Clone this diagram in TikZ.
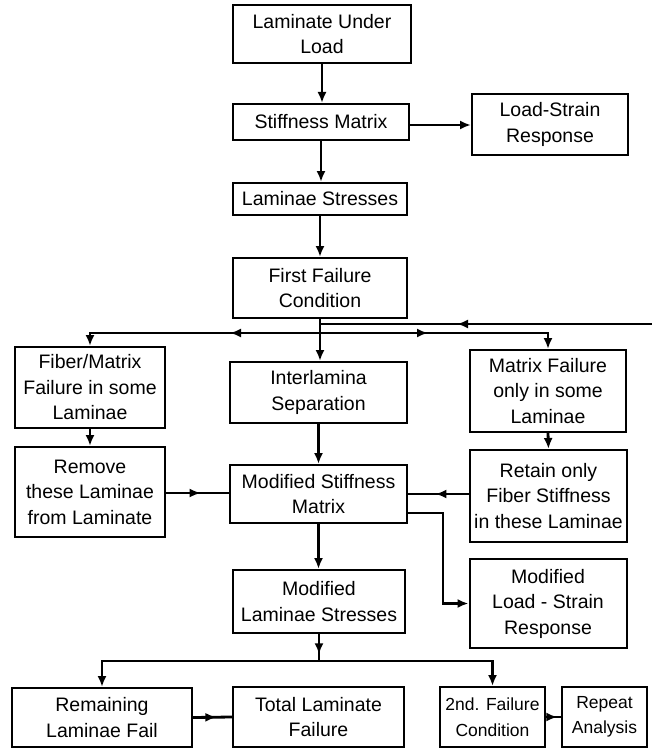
\documentclass[tikz,border=0pt]{standalone}
\usepackage{fontspec}
\setmainfont{Liberation Sans}
\usetikzlibrary{arrows.meta,decorations.markings}
\tikzset{
 box/.style={draw, line width=2pt, inner sep=0pt, align=center, font=\fontsize{19.5}{25.5}\selectfont},
 smallbox/.style={box, font=\fontsize{17.5}{25.5}\selectfont},
 conn/.style={line width=2.8pt},
 tip/.style={-{Latex[length=11pt,width=9pt]}},
 midtip/.style={postaction={decorate,decoration={markings,mark=at position #1 with {\arrow{Latex[length=11pt,width=9pt]}}}}},
}
\begin{document}
\begin{tikzpicture}[x=1pt,y=-1pt]
\useasboundingbox (0,0) rectangle (652,749);
% boxes
\node[box, minimum width=178pt, minimum height=58pt] (LUL) at (322,34) {Laminate Under\\Load};
\node[box, minimum width=176pt, minimum height=36pt] (SM) at (321,122) {Stiffness Matrix};
\node[box, minimum width=156pt, minimum height=61pt] (LSR) at (550,124.5) {Load-Strain\\Response};
\node[box, minimum width=174pt, minimum height=32pt] (LS) at (320,199) {Laminae Stresses};
\node[box, minimum width=174pt, minimum height=60pt] (FF) at (320,288) {First Failure\\Condition};
\node[box, minimum width=150pt, minimum height=81pt] (FM) at (90,387.5) {Fiber/Matrix\\Failure in some\\Laminae};
\node[box, minimum width=150pt, minimum height=90pt] (RM) at (90,492) {Remove\\these Laminae\\from Laminate};
\node[box, minimum width=177pt, minimum height=61pt] (IS) at (318.5,392.5) {Interlamina\\Separation};
\node[box, minimum width=177pt, minimum height=58pt] (MS) at (318.5,494) {Modified Stiffness\\Matrix};
\node[box, minimum width=156pt, minimum height=82pt] (MF) at (548,391) {Matrix Failure\\only in some\\Laminae};
\node[box, minimum width=157pt, minimum height=92pt] (RT) at (548.5,496) {Retain only\\Fiber Stiffness\\in these Laminae};
\node[box, minimum width=157pt, minimum height=89pt] (MLS) at (548,603.5) {Modified\\Load - Strain\\Response};
\node[box, minimum width=172pt, minimum height=63pt] (ML) at (319,601.5) {Modified\\Laminae Stresses};
\node[box, minimum width=180pt, minimum height=59pt] (RLF) at (102,717.5) {Remaining\\Laminae Fail};
\node[box, minimum width=171pt, minimum height=60pt] (TLF) at (318.5,717) {Total Laminate\\Failure};
\node[smallbox, minimum width=105pt, minimum height=60pt] (SF) at (492.5,717) {2nd. Failure\\Condition};
\node[smallbox, minimum width=85pt, minimum height=60pt] (RA) at (604.5,717) {Repeat\\Analysis};
% junctions
\coordinate (jA) at (320,333);
\coordinate (fbR) at (652,324);
\coordinate (jB) at (319,661);
% connectors
\draw[conn,tip] (LUL.south) -- (LUL.south |- SM.north);
\draw[conn,tip] (SM.east |- 0,125) -- (LSR.west |- 0,125);
\draw[conn,tip] (SM.south) -- (SM.south |- LS.north);
\draw[conn,tip] (LS.south) -- (LS.south |- FF.north);
\draw[conn,tip] (FF.south) -- (FF.south |- IS.north);
\draw[conn,tip,midtip=90pt] (jA) -| (FM.north);
\draw[conn,tip,midtip=108pt] (jA) -| (MF.north);
\draw[conn,midtip=195pt] (fbR) -- (FF.south |- fbR);
\draw[conn,tip] (FM.south) -- (RM.north);
\draw[conn,tip] (MF.south) -- (RT.north);
\draw[conn,tip] (IS.south) -- (MS.north);
\draw[conn,midtip=0.55] (RM.east |- 0,493) -- (MS.west |- 0,493);
\draw[conn,midtip=0.55] (RT.west |- 0,494) -- (MS.east |- 0,494);
\draw[conn,tip] ([yshift=-19pt]MS.east) -- ++(35,0) |- (MLS.west);
\draw[conn,tip] (MS.south) -- (MS.south |- ML.north);
\draw[conn,midtip=0.75] (ML.south) -- (jB);
\draw[conn,tip] (jB) -| (RLF.north);
\draw[conn,tip] (jB) -| (SF.north);
\draw[conn,midtip=0.6] (RLF.east) -- (TLF.west);
\draw[conn,midtip=0.75] (SF.east) -- (RA.west);
\end{tikzpicture}
\end{document}
